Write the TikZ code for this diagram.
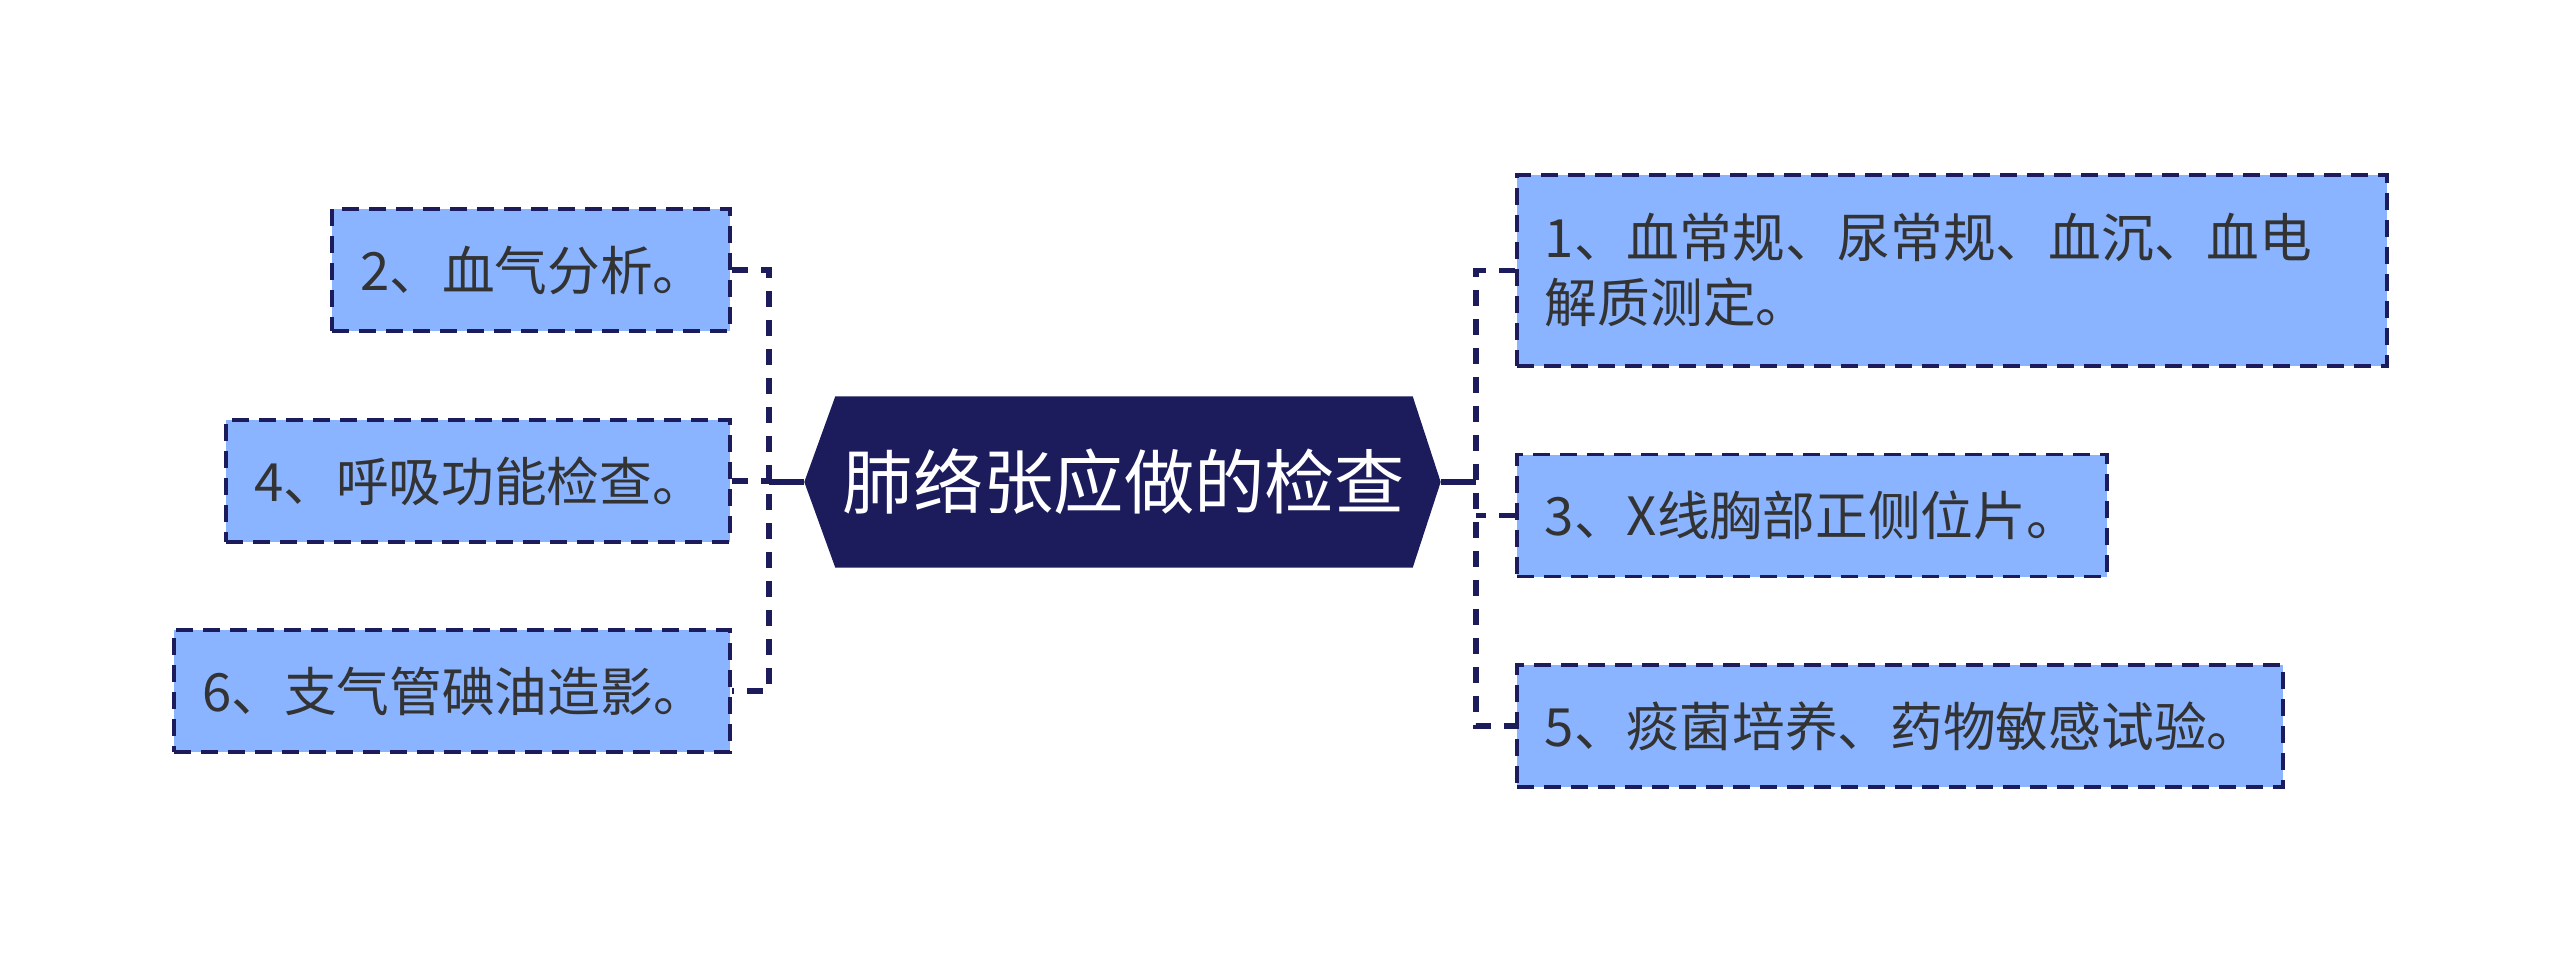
\documentclass[tikz,border=0pt]{standalone}
\usepackage{fontspec}
\setmainfont{Noto Sans CJK SC}
\usepackage{tikz}
\usetikzlibrary{backgrounds}
\definecolor{navy}{HTML}{1C1C5C}
\definecolor{leafblue}{HTML}{8AB4FF}
\definecolor{inkgray}{HTML}{333333}

\begin{document}
\begin{tikzpicture}[
    leaf/.style={draw=navy, line width=1.1pt, dash pattern=on 0.17cm off 0.1cm, fill=leafblue,
        text=inkgray, font=\fontsize{15}{18.5}\selectfont, align=left,
        inner xsep=0.28cm, inner ysep=0pt, minimum height=1.22cm},
    link/.style={navy, line width=1.5pt, dash pattern=on 0.16cm off 0.13cm},
    trunk/.style={navy, line width=1.5pt}]
	\useasboundingbox (0,0) rectangle (25.6,-9.64);
	% centre topic
	\node [text=white, font=\fontsize{20}{24}\selectfont, minimum width=5.76cm, minimum height=1.70cm, inner sep=0pt] (root) at (11.24,-4.82) {肺络张应做的检查};
	\coordinate (rootL) at ([xshift=-0.31cm]root.west);
	\coordinate (rootR) at ([xshift=0.28cm]root.east);
	\begin{scope}[on background layer]
		\fill [navy] (root.north west) -- (root.north east) -- (rootR) -- (root.south east) -- (root.south west) -- (rootL) -- cycle;
	\end{scope}
	% left branches
	\node [leaf, anchor=east, text width=3.42cm] (n2) at (7.32,-2.70) {2、血气分析。};
	\node [leaf, anchor=east, text width=4.48cm] (n4) at (7.32,-4.81) {4、呼吸功能检查。};
	\node [leaf, anchor=east, text width=5.00cm] (n6) at (7.32,-6.91) {6、支气管碘油造影。};
	% right branches
	\node [leaf, anchor=west, text width=8.14cm, minimum height=1.91cm] (n1) at (15.15,-2.705) {1、血常规、尿常规、血沉、血电\\解质测定。};
	\node [leaf, anchor=west, text width=5.34cm] (n3) at (15.15,-5.155) {3、X线胸部正侧位片。};
	\node [leaf, anchor=west, text width=7.10cm] (n5) at (15.15,-7.26) {5、痰菌培养、药物敏感试验。};
	% connectors
	\coordinate (lbus) at (7.69,-4.82);
	\coordinate (rbus) at (14.76,-4.82);
	\draw [trunk] (rootL) -- (lbus);
	\draw [trunk] (rootR) -- (rbus);
	\draw [link] (n2.east) -| (lbus) |- (n6.east);
	\draw [link] (n4.east) -- (n4.east -| lbus);
	\draw [link] (n1.west) -| (rbus) |- (n5.west);
	\draw [link] (n3.west) -- (n3.west -| rbus);
\end{tikzpicture}
\end{document}
